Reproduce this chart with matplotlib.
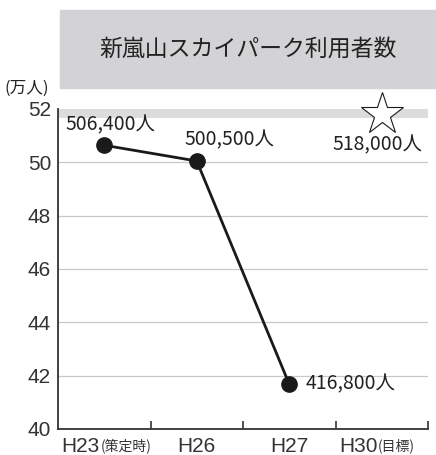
import matplotlib.pyplot as plt
from matplotlib.transforms import blended_transform_factory

plt.rcParams['font.family'] = ['Noto Sans CJK JP', 'DejaVu Sans']

years = ["H23", "H26", "H27", "H30"]
year_notes = ["(策定時)", "", "", "(目標)"]
visitors = [50.64, 50.05, 41.68]          # 万人
target = 51.8
value_labels = ["506,400人", "500,500人", "416,800人"]
target_label = "518,000人"
yticks = [40, 42, 44, 46, 48, 50, 52]

narrow = ["Liberation Sans", "DejaVu Sans"]

fig = plt.figure(figsize=(4.36, 4.55), dpi=100)

# title box
fig.patches.append(plt.Rectangle((60/436, 1-88/455), 376/436, 78/455,
                                 transform=fig.transFigure, color="#d3d3d5", zorder=0))
fig.text(248/436, 1-49/455, "新嵐山スカイパーク利用者数", ha="center", va="center",
         fontsize=16.5, color="#222222")

ax = fig.add_axes([58/436, 1-429/455, 370/436, 320/455])
x = list(range(len(visitors)))
ax.axhspan(51.67, 52, color="#dcdcdc", lw=0, zorder=0)
for y in yticks[1:-1]:
    ax.axhline(y, color="#c8c8c8", lw=0.9, zorder=0)
ax.plot(x, visitors, color="#1a1a1a", lw=2, zorder=2)
ax.plot(x, visitors, "o", color="#1a1a1a", ms=11, zorder=3)
ax.plot(3, target, marker="*", ms=32, mfc="white", mec="#1a1a1a", mew=0.8,
        zorder=3, clip_on=False)

ax.set_xlim(-0.5, 3.5)
ax.set_ylim(40, 52)
ax.set_yticks(yticks)
ax.set_yticklabels([str(v) for v in yticks], family=narrow, fontsize=15, color="#333333")
ax.tick_params(axis="y", length=0, pad=5)
ax.set_xticks([0.5, 1.5, 2.5, 3.5])
ax.set_xticklabels([])
ax.tick_params(axis="x", length=6, width=1.2, direction="in", color="#333333")
for s in ["top", "right"]:
    ax.spines[s].set_visible(False)
for s in ["left", "bottom"]:
    ax.spines[s].set_linewidth(1.3)
    ax.spines[s].set_color("#333333")

# data labels
kw = dict(textcoords="offset pixels", fontsize=14, color="#222222", va="center", ha="left")
ax.annotate(value_labels[0], (0, visitors[0]), xytext=(-39, 20), **kw)
ax.annotate(value_labels[1], (1, visitors[1]), xytext=(-12, 21), **kw)
ax.annotate(value_labels[2], (2, visitors[2]), xytext=(16, 0), **kw)
ax.annotate(target_label, (3, target), xytext=(-49, -30), **kw)

# x labels: year + smaller note
tr = blended_transform_factory(ax.transData, fig.transFigure)
for i, (yr, note) in enumerate(zip(years, year_notes)):
    if note:
        ax.text(i - 0.46, 1-446/455, yr, transform=tr, family=narrow, fontsize=15,
                color="#333333", va="center", ha="left")
        ax.text(i - 0.04, 1-446/455, note, transform=tr, fontsize=10,
                color="#333333", va="center", ha="left")
    else:
        ax.text(i, 1-446/455, yr, transform=tr, family=narrow, fontsize=15,
                color="#333333", va="center", ha="center")

fig.text(4/436, 1-88/455, "(万人)", fontsize=12, color="#222222", va="center", ha="left")

fig.savefig("out.png", dpi=100)
